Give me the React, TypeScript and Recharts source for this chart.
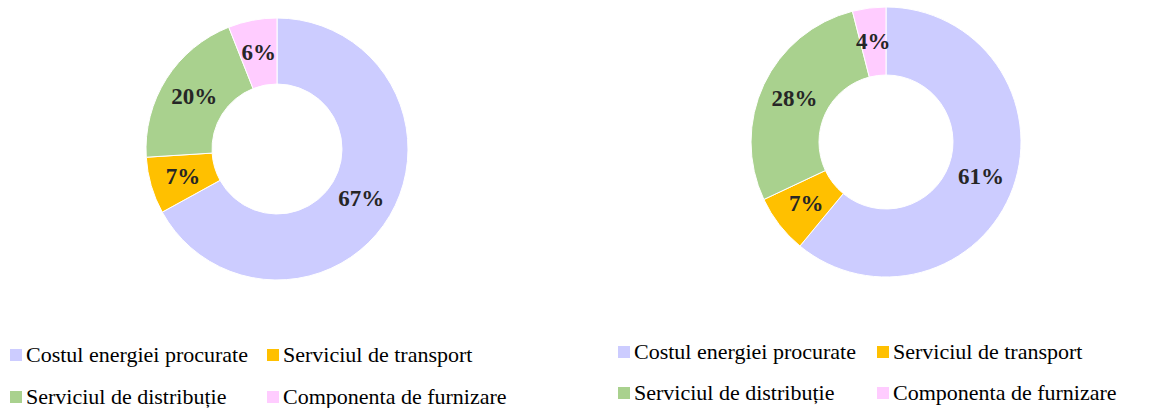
// @ts-nocheck
import React from "react"
import { Cell, Pie, PieChart } from "recharts"

const categories = [
    "Costul energiei procurate",
    "Serviciul de transport",
    "Serviciul de distribuție",
    "Componenta de furnizare",
]
const leftValues = [67, 7, 20, 6]
const rightValues = [61, 7, 28, 4]
const colors = ["#CCCCFF", "#FFC000", "#A9D18E", "#FFCCFF"]

// legend order: row by row, two per row
const legendOrder = [0, 1, 2, 3]

const RAD = Math.PI / 180
const FONT = '"Liberation Serif", "Times New Roman", serif'

const toData = (values: number[]) =>
    categories.map((name, i) => ({ name, value: values[i], color: colors[i] }))

const leftData = toData(leftValues)
const rightData = toData(rightValues)

function renderLabel({ cx, cy, midAngle, innerRadius, outerRadius, value }) {
    const r = (innerRadius + outerRadius) / 2
    const x = cx + r * Math.cos(-midAngle * RAD)
    const y = cy + r * Math.sin(-midAngle * RAD)
    return (
        <text
            x={x}
            y={y}
            fill="#262626"
            textAnchor="middle"
            dominantBaseline="central"
            style={{ fontFamily: FONT, fontWeight: 700, fontSize: 23 }}
        >
            {`${value}%`}
        </text>
    )
}

function LegendBlock({ left, top, colWidth, rowGap }) {
    return (
        <div
            style={{
                position: "absolute",
                left,
                top,
                display: "grid",
                gridTemplateColumns: `${colWidth}px auto`,
                rowGap,
                fontFamily: FONT,
                fontSize: 22,
                color: "#000",
                lineHeight: "22px",
            }}
        >
            {legendOrder.map((i) => (
                <div key={i} style={{ display: "flex", alignItems: "center", whiteSpace: "nowrap" }}>
                    <span
                        style={{
                            display: "inline-block",
                            width: 12,
                            height: 12,
                            background: colors[i],
                            marginRight: 4,
                        }}
                    />
                    <span>{categories[i]}</span>
                </div>
            ))}
        </div>
    )
}

export default function App() {
    return (
        <div style={{ position: "absolute", left: 0, top: 0, width: 1157, height: 408, background: "#fff" }}>
            <PieChart
                width={1157}
                height={408}
                margin={{ top: 0, right: 0, bottom: 0, left: 0 }}
                style={{ position: "absolute", left: 0, top: 0 }}
            >
                <Pie
                    data={leftData}
                    dataKey="value"
                    nameKey="name"
                    cx={277}
                    cy={149}
                    innerRadius={65}
                    outerRadius={131}
                    startAngle={90}
                    endAngle={-270}
                    stroke="#fff"
                    strokeWidth={1}
                    label={renderLabel}
                    labelLine={false}
                    isAnimationActive={false}
                >
                    {leftData.map((d, i) => (
                        <Cell key={`l-${i}`} fill={d.color} />
                    ))}
                </Pie>
                <Pie
                    data={rightData}
                    dataKey="value"
                    nameKey="name"
                    cx={886}
                    cy={142}
                    innerRadius={67}
                    outerRadius={135}
                    startAngle={90}
                    endAngle={-270}
                    stroke="#fff"
                    strokeWidth={1}
                    label={renderLabel}
                    labelLine={false}
                    isAnimationActive={false}
                >
                    {rightData.map((d, i) => (
                        <Cell key={`r-${i}`} fill={d.color} />
                    ))}
                </Pie>
            </PieChart>
            <LegendBlock left={10} top={344} colWidth={257} rowGap={20} />
            <LegendBlock left={618} top={341} colWidth={259} rowGap={19} />
        </div>
    )
}
